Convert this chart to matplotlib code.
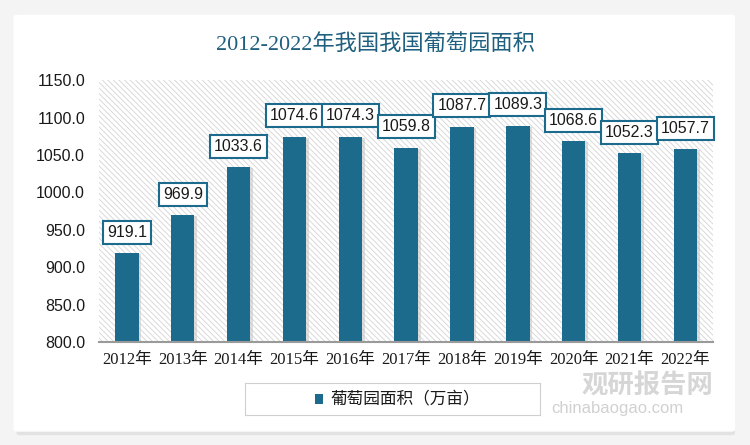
import matplotlib.pyplot as plt
from matplotlib.patches import FancyBboxPatch, Rectangle

plt.rcParams['font.family'] = ['Liberation Sans', 'Noto Sans CJK SC']
plt.rcParams['hatch.color'] = '#cccccc'
plt.rcParams['hatch.linewidth'] = 0.6

years = ['2012年', '2013年', '2014年', '2015年', '2016年', '2017年',
         '2018年', '2019年', '2020年', '2021年', '2022年']
area = [919.1, 969.9, 1033.6, 1074.6, 1074.3, 1059.8,
        1087.7, 1089.3, 1068.6, 1052.3, 1057.7]
yticks = [800, 850, 900, 950, 1000, 1050, 1100, 1150]

bar_color = '#1c6a8c'
title_color = '#1f5f7f'

fig = plt.figure(figsize=(7.5, 4.45), dpi=100)
fig.patch.set_facecolor('#f4f4f4')

# card background with soft shadow
shadow = FancyBboxPatch((0.022, 0.022), 0.958, 0.94, boxstyle='round,pad=0,rounding_size=0.005',
                        transform=fig.transFigure, facecolor='#e2e2e2', edgecolor='none', zorder=-10)
card = FancyBboxPatch((0.018, 0.03), 0.962, 0.937, boxstyle='round,pad=0,rounding_size=0.005',
                      transform=fig.transFigure, facecolor='white', edgecolor='none', zorder=-9)
fig.patches.extend([shadow, card])

ax = fig.add_axes([0.132, 0.231, 0.819, 0.589])
ax.set_facecolor('none')
ax.add_patch(Rectangle((0, 0), 1, 1, transform=ax.transAxes, facecolor='white',
                       hatch='\\\\\\\\\\\\', edgecolor='#d4d4d4', linewidth=0, zorder=0))

x = list(range(len(years)))
ax.bar([i + 0.05 for i in x], [v - 801.5 for v in area], width=0.42, bottom=800,
       color='#c8c8c8', alpha=0.6, zorder=1)
ax.bar(x, [v - 800 for v in area], width=0.42, bottom=800, color=bar_color, zorder=2)

for i, v in zip(x, area):
    ax.annotate(f'{v:.1f}', (i, v), xytext=(0, 15), textcoords='offset points',
                ha='center', va='center', fontsize=11.5, color='#1a1a1a', zorder=5,
                family=['Liberation Sans', 'DejaVu Sans'],
                bbox=dict(boxstyle='square,pad=0.25', facecolor='white',
                          edgecolor=bar_color, linewidth=1.5))

ax.set_xlim(-0.5, len(years) - 0.5)
ax.set_ylim(800, 1150)
ax.set_yticks(yticks)
ax.set_yticklabels([f'{t:.1f}' for t in yticks], fontsize=11.5, color='#1a1a1a')
ax.set_xticks(x)
ax.set_xticklabels(years, fontsize=12, color='#1a1a1a',
                   family=['Liberation Serif', 'Noto Sans CJK SC'])
ax.tick_params(length=0, pad=10)
ax.tick_params(axis='x', pad=7)
for s in ['top', 'right', 'left']:
    ax.spines[s].set_visible(False)
ax.spines['bottom'].set_color('#9a9a9a')
ax.spines['bottom'].set_linewidth(1.5)

fig.text(0.5, 0.9, '2012-2022年我国我国葡萄园面积', ha='center', va='center',
         fontsize=16, color=title_color, family=['Liberation Serif', 'Noto Sans CJK SC'])

# legend
leg_ax = fig.add_axes([0.327, 0.068, 0.393, 0.072])
leg_ax.set_xlim(0, 1)
leg_ax.set_ylim(0, 1)
leg_ax.set_xticks([])
leg_ax.set_yticks([])
for s in leg_ax.spines.values():
    s.set_color('#cfcfcf')
leg_ax.add_patch(Rectangle((0.235, 0.35), 0.03, 0.3, facecolor=bar_color))
leg_ax.text(0.29, 0.5, '葡萄园面积（万亩）', va='center', ha='left', fontsize=12, color='#1a1a1a',
            family=['Noto Sans CJK SC'])

# watermark
fig.text(0.775, 0.115, '观研报告网', fontsize=19, color='#cccccc', fontweight='bold',
         family=['Noto Sans CJK SC'], alpha=0.8)
fig.text(0.735, 0.072, 'chinabaogao.com', fontsize=12, color='#cccccc', alpha=0.9)

fig.savefig('out.png', dpi=100, facecolor=fig.get_facecolor())
